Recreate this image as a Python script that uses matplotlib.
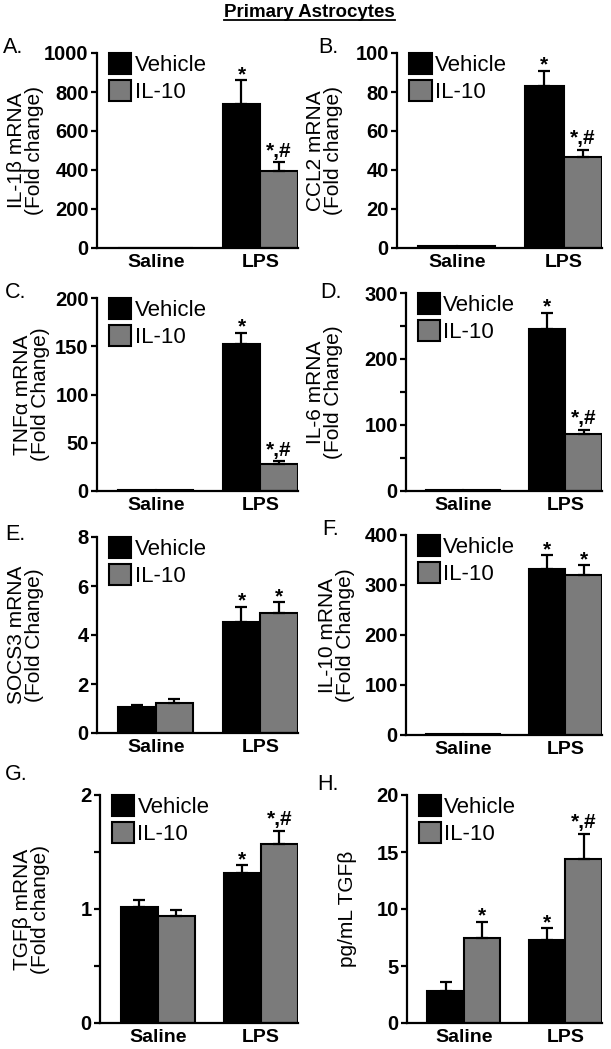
import numpy as np
import matplotlib
matplotlib.use('Agg')
import matplotlib.pyplot as plt
import matplotlib.transforms as mtransforms
from matplotlib.lines import Line2D

plt.rcParams['font.family'] = ['Liberation Sans', 'DejaVu Sans']

W, H = 611, 1049
groups = ['Saline', 'LPS']
series = ['Vehicle', 'IL-10']

# A. IL-1b
il1b_veh = [1, 740]
il1b_veh_err = [0, 120]
il1b_il10 = [1, 395]
il1b_il10_err = [0, 45]
il1b_marks = [['', '*'], ['', '*,#']]

# B. CCL2
ccl2_veh = [1, 83]
ccl2_veh_err = [0, 8]
ccl2_il10 = [1, 46.5]
ccl2_il10_err = [0, 4]
ccl2_marks = [['', '*'], ['', '*,#']]

# C. TNFa
tnfa_veh = [1, 152]
tnfa_veh_err = [0, 12]
tnfa_il10 = [1, 28]
tnfa_il10_err = [0, 3]
tnfa_marks = [['', '*'], ['', '*,#']]

# D. IL-6
il6_veh = [1.5, 246]
il6_veh_err = [0, 24]
il6_il10 = [1.5, 86]
il6_il10_err = [0, 7]
il6_marks = [['', '*'], ['', '*,#']]

# E. SOCS3
socs3_veh = [1.05, 4.55]
socs3_veh_err = [0.1, 0.6]
socs3_il10 = [1.22, 4.9]
socs3_il10_err = [0.15, 0.45]
socs3_marks = [['', '*'], ['', '*']]

# F. IL-10
il10_veh = [2, 333]
il10_veh_err = [0, 27]
il10_il10 = [2, 320]
il10_il10_err = [0, 20]
il10_marks = [['', '*'], ['', '*']]

# G. TGFb mRNA
tgfb_veh = [1.02, 1.32]
tgfb_veh_err = [0.06, 0.065]
tgfb_il10 = [0.94, 1.57]
tgfb_il10_err = [0.055, 0.115]
tgfb_marks = [['', '*'], ['', '*,#']]

# H. TGFb protein
tgfbp_veh = [2.8, 7.3]
tgfbp_veh_err = [0.8, 1.0]
tgfbp_il10 = [7.5, 14.4]
tgfbp_il10_err = [1.4, 2.2]
tgfbp_marks = [['', '*'], ['*', '*,#']]

fig = plt.figure(figsize=(W / 100, H / 100), dpi=100)


def px_axes(left, top, right, bottom):
    return fig.add_axes([left / W, 1 - bottom / H, (right - left) / W, (bottom - top) / H])


def panel(box, letter, letter_xy, veh, veh_err, il10, il10_err, marks,
          ymax, yticks, ylabels, ylab, ylab_x):
    ax = px_axes(*box)
    w = 0.36
    x = np.arange(len(groups))
    ax.bar(x - w / 2, veh, w, color='black', edgecolor='black', linewidth=1.5, zorder=2)
    ax.bar(x + w / 2, il10, w, color='#7b7b7b', edgecolor='black', linewidth=1.5, zorder=2)
    for xs, vals, errs in [(x - w / 2, veh, veh_err), (x + w / 2, il10, il10_err)]:
        for xi, v, e in zip(xs, vals, errs):
            if e > 0:
                ax.errorbar(xi, v, yerr=[[0], [e]], fmt='none', ecolor='black',
                            elinewidth=1.6, capsize=4.5, capthick=1.6, zorder=3)
    for xs, vals, errs, mk in [(x - w / 2, veh, veh_err, marks[0]), (x + w / 2, il10, il10_err, marks[1])]:
        for xi, v, e, m in zip(xs, vals, errs, mk):
            if m:
                off = 4 if '#' in m else 0
                ax.annotate(m, (xi, v + e), xytext=(0, off), textcoords='offset points',
                            ha='center', va='baseline', fontsize=15, fontweight='bold')
    ax.set_xlim(-0.56, 1 + w)
    ax.set_ylim(0, ymax)
    ax.set_yticks(yticks)
    ax.set_yticklabels(ylabels)
    ax.set_xticks(x)
    ax.set_xticklabels(groups)
    for s in ['top', 'right']:
        ax.spines[s].set_visible(False)
    for s in ['left', 'bottom']:
        ax.spines[s].set_linewidth(1.6)
    ax.tick_params(axis='y', length=4.5, width=1.6, pad=1.5, labelsize=14.5)
    ax.tick_params(axis='x', length=0, pad=4, labelsize=14)
    for t in ax.get_yticklabels() + ax.get_xticklabels():
        t.set_fontweight('bold')
    ax.set_ylabel(ylab, fontsize=15, linespacing=0.95)
    ax.yaxis.set_label_coords(ylab_x / W, 0.5,
                              transform=mtransforms.blended_transform_factory(fig.transFigure, ax.transAxes))
    ax.legend(series, loc='upper left', bbox_to_anchor=(0.06, 1.0), frameon=False,
              fontsize=16, handlelength=1.0, handleheight=1.05, handletextpad=0.15,
              labelspacing=0.2, borderaxespad=0.0, borderpad=0.0)
    fig.text(letter_xy[0] / W, 1 - letter_xy[1] / H, letter, fontsize=15.5, va='top', ha='left')
    return ax


panel((97, 53, 298, 248), 'A.', (3, 37), il1b_veh, il1b_veh_err, il1b_il10, il1b_il10_err, il1b_marks,
      1000, [0, 200, 400, 600, 800, 1000], ['0', '200', '400', '600', '800', '1000'],
      'IL-1β mRNA\n(Fold change)', 44)
panel((397, 53, 602, 248), 'B.', (318, 37), ccl2_veh, ccl2_veh_err, ccl2_il10, ccl2_il10_err, ccl2_marks,
      100, [0, 20, 40, 60, 80, 100], ['0', '20', '40', '60', '80', '100'],
      'CCL2 mRNA\n(Fold change)', 343)
panel((97, 298, 298, 491), 'C.', (5, 282), tnfa_veh, tnfa_veh_err, tnfa_il10, tnfa_il10_err, tnfa_marks,
      200, [0, 50, 100, 150, 200], ['0', '50', '100', '150', '200'],
      'TNFα mRNA\n(Fold Change)', 50)
panel((406, 293, 602, 491), 'D.', (320, 282), il6_veh, il6_veh_err, il6_il10, il6_il10_err, il6_marks,
      300, [0, 50, 100, 150, 200, 250, 300], ['0', '', '100', '', '200', '', '300'],
      'IL-6 mRNA\n(Fold Change)', 343)
panel((97, 537, 298, 733), 'E.', (5, 524), socs3_veh, socs3_veh_err, socs3_il10, socs3_il10_err, socs3_marks,
      8, [0, 2, 4, 6, 8], ['0', '2', '4', '6', '8'],
      'SOCS3 mRNA\n(Fold Change)', 44)
panel((406, 535, 602, 735), 'F.', (322, 519), il10_veh, il10_veh_err, il10_il10, il10_il10_err, il10_marks,
      400, [0, 100, 200, 300, 400], ['0', '100', '200', '300', '400'],
      'IL-10 mRNA\n(Fold Change)', 355)
panel((100, 795, 298, 1023), 'G.', (5, 764), tgfb_veh, tgfb_veh_err, tgfb_il10, tgfb_il10_err, tgfb_marks,
      2, [0, 0.5, 1, 1.5, 2], ['0', '', '1', '', '2'],
      'TGFβ mRNA\n(Fold change)', 50)
panel((407, 795, 602, 1023), 'H.', (317, 774), tgfbp_veh, tgfbp_veh_err, tgfbp_il10, tgfbp_il10_err, tgfbp_marks,
      20, [0, 5, 10, 15, 20], ['0', '5', '10', '15', '20'],
      'pg/mL TGFβ', 357)

title = fig.text(309.5 / W, 1 - 4 / H, 'Primary Astrocytes', fontsize=13.5, fontweight='bold',
                 ha='center', va='top')
fig.canvas.draw()
bb = title.get_window_extent()
uy = (bb.y0 + 1) / H
fig.add_artist(Line2D([bb.x0 / W, bb.x1 / W], [uy, uy], color='black', linewidth=1.3,
                      transform=fig.transFigure))

fig.savefig('out.png', dpi=100)
